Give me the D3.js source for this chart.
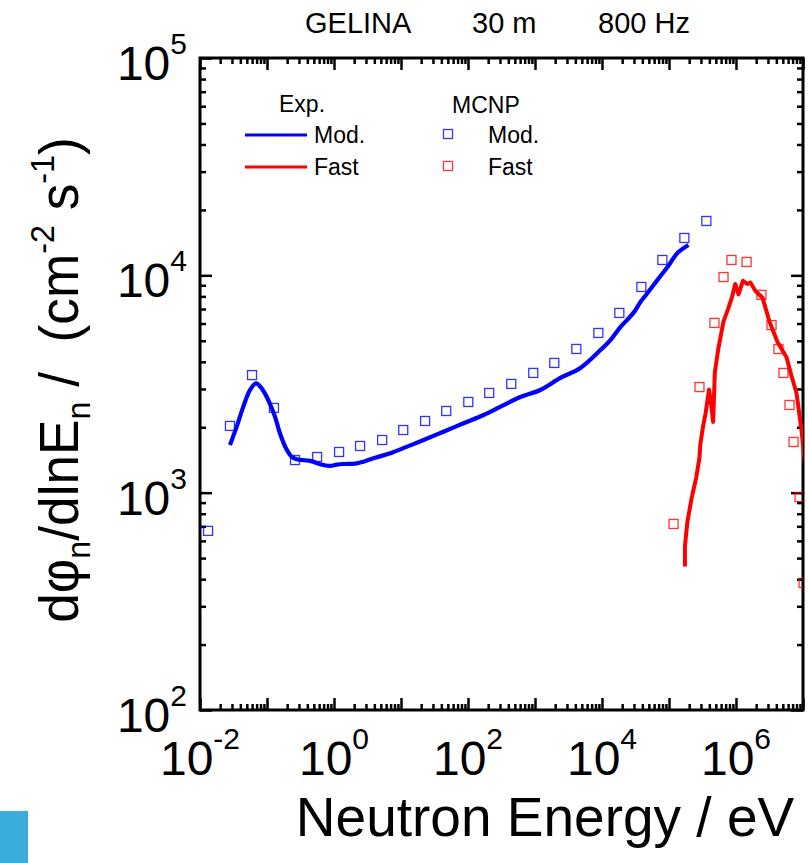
<!DOCTYPE html>
<html><head><meta charset="utf-8">
<script src="https://cdn.jsdelivr.net/npm/d3@7"></script>
<style>
body{margin:0;background:#fff;}
svg{display:block;font-family:"Liberation Sans",Arial,Helvetica,sans-serif;}
</style>
</head><body>
<svg id="c" width="808" height="863"></svg>
<script>
// ---- data ----
const titleParts = ["GELINA", "30 m", "800 Hz"];
const xLabelExps = [-2, 0, 2, 4, 6];
const yLabelExps = [2, 3, 4, 5];
const xTitle = "Neutron Energy / eV";
const legendExpTitle = "Exp.";
const legendMcnpTitle = "MCNP";
const seriesNames = ["Mod.", "Fast"];

const expModE = [0.0280,0.0353,0.0443,0.0557,0.0685,0.0833,0.1045,0.1316,0.156,0.192,0.233,0.278,0.438,0.691,0.871,1.10,1.38,2.19,2.75,4.36,6.91,12.3,21.7,43.1,85.8,171,340,603,1200,2390,4760,9470,13350,18800,29450,37500,47700,67300,95000,133800,195000];
const expModY = [1656,2013,2489,2966,3184,3020,2668,2237,1876,1600,1464,1425,1400,1341,1327,1345,1355,1365,1389,1456,1518,1628,1748,1908,2087,2277,2530,2754,2967,3372,3750,4530,5037,5779,6716,7538,8298,9528,10920,12670,13800];

const expFastE = [1.73e5,1.73e5,1.88e5,2.17e5,2.54e5,2.85e5,2.94e5,3.21e5,3.51e5,3.96e5,4.30e5,4.56e5,4.83e5,5.44e5,6.50e5,7.72e5,8.67e5,9.74e5,1.09e6,1.27e6,1.47e6,1.64e6,1.95e6,2.49e6,3.16e6,4.16e6,5.67e6,6.74e6,8.00e6,9.51e6,1.07e7,1.13e7];
const expFastY = [457,568,733,940,1167,1449,1675,2005,2312,2979,2490,2115,3565,4592,6124,7080,7889,9128,8170,9440,9128,9270,8472,7889,6124,4933,4198,3442,2876,1933,1349,1084];

const mcnpModE = [0.0132,0.0280,0.0598,0.127,0.262,0.559,1.19,2.45,5.23,10.8,22.9,47.3,101,207,442,942,1940,4140,8820,18150,38700,79600,169500,361000];
const mcnpModY = [667,2028,3475,2455,1413,1459,1539,1640,1747,1942,2137,2376,2614,2876,3165,3556,3953,4584,5431,6714,8840,11770,14860,17790];

const mcnpFastE = [1.17e5,2.85e5,4.77e5,6.51e5,8.56e5,1.44e6,2.40e6,3.39e6,4.30e6,5.11e6,6.29e6,7.22e6,8.87e6,1.02e7];
const mcnpFastY = [718,3062,6039,9820,11770,11520,8128,5902,4580,3555,2532,1711,955,384];

// ---- layout ----
const W = 808, H = 863;
const P = {l: 200, r: 803, t: 58, b: 710};
const BLUE = "#0000ff", RED = "#ff0000";

const svg = d3.select("#c");
const x = d3.scaleLog().domain([1e-2, 1e7]).range([P.l, P.r]);
const y = d3.scaleLog().domain([1e2, 1e5]).range([P.b, P.t]);

function logTicks(lo, hi) {
  const major = [], minor = [];
  for (let e = lo; e <= hi; e++) {
    major.push(Math.pow(10, e));
    if (e < hi) for (let k = 2; k <= 9; k++) minor.push(k * Math.pow(10, e));
  }
  return {major, minor};
}
const xt = logTicks(-2, 7), yt = logTicks(2, 5);

// clip
svg.append("defs").append("clipPath").attr("id", "plotclip")
  .append("rect").attr("x", P.l).attr("y", P.t).attr("width", P.r - P.l).attr("height", P.b - P.t);

// axes with inward ticks
function styleAxis(g) {
  g.select(".domain").remove();
  g.selectAll(".tick line").attr("stroke", "#000").attr("stroke-width", 2.5);
  g.selectAll(".tick text").remove();
}
const axes = [
  [d3.axisBottom(x), `translate(0,${P.b})`, xt],
  [d3.axisTop(x), `translate(0,${P.t})`, xt],
  [d3.axisLeft(y), `translate(${P.l},0)`, yt],
  [d3.axisRight(y), `translate(${P.r},0)`, yt]
];
axes.forEach(([ax, tr, t]) => {
  svg.append("g").attr("transform", tr)
    .call(ax.tickValues(t.major).tickSize(-12).tickFormat(() => "")).call(styleAxis);
  svg.append("g").attr("transform", tr)
    .call(ax.tickValues(t.minor).tickSize(-6).tickFormat(() => "")).call(styleAxis);
});

// frame
svg.append("rect").attr("x", P.l).attr("y", P.t).attr("width", P.r - P.l).attr("height", P.b - P.t)
  .attr("fill", "none").attr("stroke", "#000").attr("stroke-width", 3);

// tick labels
xLabelExps.forEach(e => {
  const t = svg.append("text").attr("x", x(Math.pow(10, e))).attr("y", 775)
    .attr("text-anchor", "middle").attr("font-size", 48);
  t.append("tspan").text("10");
  t.append("tspan").attr("dy", -26).attr("font-size", 30).text(String(e));
});
yLabelExps.forEach(e => {
  const t = svg.append("text").attr("x", 187).attr("y", y(Math.pow(10, e)) + 22)
    .attr("text-anchor", "end").attr("font-size", 48);
  t.append("tspan").text("10");
  t.append("tspan").attr("dy", -26).attr("font-size", 30).text(String(e));
});

// data
const plot = svg.append("g").attr("clip-path", "url(#plotclip)");
const line = d3.line().x(d => x(d[0])).y(d => y(d[1]));
plot.append("path")
  .datum(expModE.map((e, i) => [e, expModY[i]]))
  .attr("d", line.curve(d3.curveCatmullRom.alpha(0.5)))
  .attr("fill", "none").attr("stroke", BLUE).attr("stroke-width", 4.2).attr("stroke-linejoin", "round");
plot.append("path")
  .datum(expFastE.map((e, i) => [e, expFastY[i]]))
  .attr("d", d3.line().x(d => x(d[0])).y(d => y(d[1])))
  .attr("fill", "none").attr("stroke", RED).attr("stroke-width", 4).attr("stroke-linejoin", "round");

const SQ = 9;
function squares(E, Y, col) {
  plot.append("g").selectAll("rect").data(E.map((e, i) => [e, Y[i]])).join("rect")
    .attr("x", d => x(d[0]) - SQ / 2).attr("y", d => y(d[1]) - SQ / 2)
    .attr("width", SQ).attr("height", SQ)
    .attr("fill", "none").attr("stroke", col).attr("stroke-width", 1.3).attr("stroke-opacity", 0.8);
}
squares(mcnpModE, mcnpModY, BLUE);
squares(mcnpFastE, mcnpFastY, RED);

// title
const titleX = [305, 472, 598];
titleParts.forEach((s, i) => {
  svg.append("text").attr("x", titleX[i]).attr("y", 33).attr("font-size", 29).text(s);
});

// legend
const lg = svg.append("g").attr("font-size", 23);
lg.append("text").attr("x", 279).attr("y", 112).text(legendExpTitle);
lg.append("text").attr("x", 452).attr("y", 113).text(legendMcnpTitle);
[BLUE, RED].forEach((c, i) => {
  const yy = 135 + i * 32;
  lg.append("line").attr("x1", 245).attr("x2", 307).attr("y1", yy).attr("y2", yy)
    .attr("stroke", c).attr("stroke-width", 3);
  lg.append("text").attr("x", 314).attr("y", yy + 8).text(seriesNames[i]);
  lg.append("rect").attr("x", 448 - SQ / 2).attr("y", yy - 1 - SQ / 2).attr("width", SQ).attr("height", SQ)
    .attr("fill", "none").attr("stroke", c).attr("stroke-width", 1.3).attr("stroke-opacity", 0.8);
  lg.append("text").attr("x", 488).attr("y", yy + 8).text(seriesNames[i]);
});

// x axis title
svg.append("text").attr("x", 545).attr("y", 836).attr("text-anchor", "middle")
  .attr("font-size", 55).text(xTitle);

// y axis title
const yl = svg.append("text").attr("text-anchor", "middle").attr("font-size", 56)
  .attr("transform", "translate(78,380) rotate(-90) scale(0.95,1)");
yl.append("tspan").text("d\u03C6");
yl.append("tspan").attr("font-size", 34).attr("dy", 12).text("n");
yl.append("tspan").attr("dy", -12).text("/dlnE");
yl.append("tspan").attr("font-size", 34).attr("dy", 12).text("n");
yl.append("tspan").attr("dy", -12).text("\u00A0/\u00A0\u00A0(cm");
yl.append("tspan").attr("font-size", 34).attr("dy", -24).text("-2");
yl.append("tspan").attr("dy", 24).text("\u00A0s");
yl.append("tspan").attr("font-size", 34).attr("dy", -24).text("-1");
yl.append("tspan").attr("dy", 24).text(")");

// corner block
svg.append("rect").attr("x", 0).attr("y", 811).attr("width", 28).attr("height", H - 811).attr("fill", "#3aaddc");
</script>
</body></html>
